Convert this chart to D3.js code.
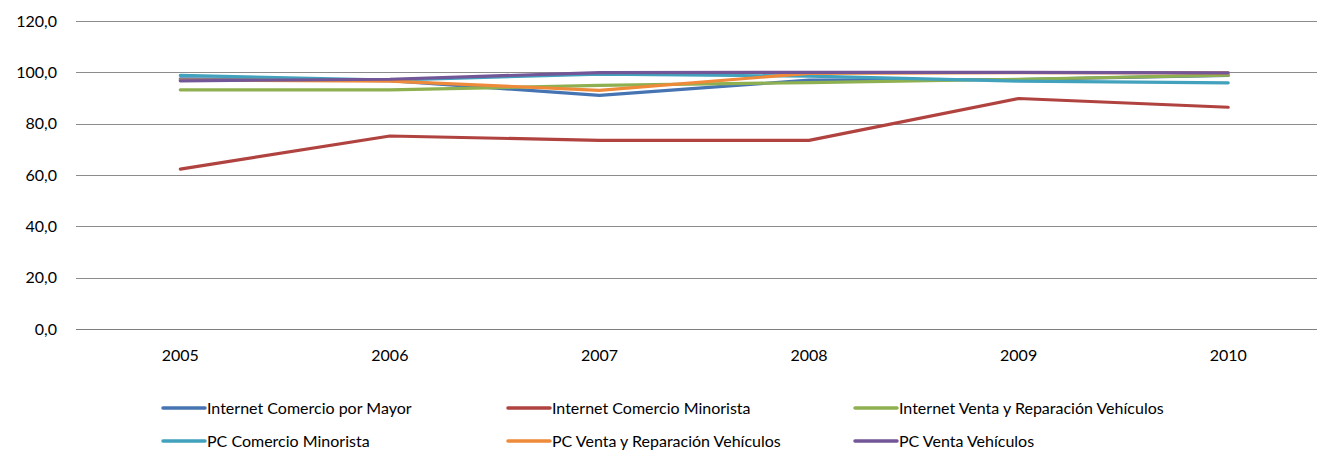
<!DOCTYPE html>
<html>
<head>
<meta charset="utf-8">
<script src="https://cdn.jsdelivr.net/npm/d3@7"></script>
<style>
  body { margin: 0; background: #fff; }
  svg { display: block; font-family: Lato, "Open Sans", sans-serif; }
</style>
</head>
<body>
<svg></svg>
<script>
let years = ["2005", "2006", "2007", "2008", "2009", "2010"]
let yTicks = [0, 20, 40, 60, 80, 100, 120]

let seriesNames = [
    "Internet Comercio por Mayor",
    "Internet Comercio Minorista",
    "Internet Venta y Reparación Vehículos",
    "PC Comercio Minorista",
    "PC Venta y Reparación Vehículos",
    "PC Venta Vehículos"
]
let internetMayor = [97.5, 96.8, 91.0, 97.0, 97.2, 98.8]
let internetMinorista = [62.3, 75.2, 73.5, 73.5, 89.8, 86.4]
let internetVehiculos = [93.2, 93.2, 94.9, 96.0, 97.3, 98.9]
let pcMinorista = [98.8, 97.0, 99.3, 98.5, 96.6, 95.9]
let pcReparacion = [97.0, 96.6, 93.0, 99.6, 99.9, 99.8]
let pcVehiculos = [96.7, 97.3, 99.9, 100.0, 100.0, 99.8]

let colors = ["#4674b3", "#b0433f", "#8fb050", "#42a2bd", "#ee8a3a", "#735697"]

let width = 1317
let height = 451
let fontSize = 16

let svg = d3.select("svg")
    .attr("width", width)
    .attr("height", height)

let xScale = d3.scaleBand()
    .domain(years)
    .range([75.5, 1333])

let yScale = d3.scaleLinear()
    .domain([0, 120])
    .range([329, 21])

// horizontal gridlines
svg.append("g")
    .selectAll("line")
    .data(yTicks)
    .enter()
    .append("line")
    .attr("x1", 76)
    .attr("x2", 1317)
    .attr("y1", (d) => Math.round(yScale(d)) + 0.5)
    .attr("y2", (d) => Math.round(yScale(d)) + 0.5)
    .attr("stroke", (d) => d === 0 ? "#7f7f7f" : "#8c8c8c")
    .attr("stroke-width", 1)

// y axis labels
let yAxis = d3.axisLeft(yScale)
    .tickValues(yTicks)
    .tickSize(0)
    .tickPadding(0)
    .tickFormat((d) => d3.format(".1f")(d).replace(".", ","))

let gy = svg.append("g")
    .attr("transform", "translate(57,0)")
    .call(yAxis)
gy.select(".domain").remove()
gy.selectAll("text")
    .attr("font-size", fontSize)
    .attr("font-family", "Lato, sans-serif")
    .attr("fill", "#000")

// x axis labels
let xAxis = d3.axisBottom(xScale)
    .tickSize(0)
    .tickPadding(0)

let gx = svg.append("g")
    .attr("transform", "translate(0,350)")
    .call(xAxis)
gx.select(".domain").remove()
gx.selectAll("text")
    .attr("font-size", fontSize)
    .attr("font-family", "Lato, sans-serif")
    .attr("fill", "#000")

// lines
let allSeries = [internetMayor, internetMinorista, internetVehiculos, pcMinorista, pcReparacion, pcVehiculos]

let line = d3.line()
    .x((d, i) => xScale(years[i]) + xScale.bandwidth() / 2)
    .y((d) => yScale(d))

svg.append("g")
    .selectAll("path")
    .data(allSeries)
    .enter()
    .append("path")
    .attr("d", (d) => line(d))
    .attr("fill", "none")
    .attr("stroke", (d, i) => colors[i])
    .attr("stroke-width", 3.2)
    .attr("stroke-linecap", "round")
    .attr("stroke-linejoin", "round")

// legend
let legendX = [163, 508, 855]
let legendY = [408, 441]

let legend = svg.append("g")
    .selectAll("g")
    .data(seriesNames)
    .enter()
    .append("g")
    .attr("transform", (d, i) => "translate(" + legendX[i % 3] + "," + legendY[Math.floor(i / 3)] + ")")

legend.append("line")
    .attr("x1", 0)
    .attr("x2", 42)
    .attr("y1", 0)
    .attr("y2", 0)
    .attr("stroke", (d, i) => colors[i])
    .attr("stroke-width", 3.5)
    .attr("stroke-linecap", "round")

legend.append("text")
    .attr("x", 44)
    .attr("y", 5.5)
    .attr("font-size", fontSize)
    .attr("fill", "#000")
    .text((d) => d)
</script>
</body>
</html>
